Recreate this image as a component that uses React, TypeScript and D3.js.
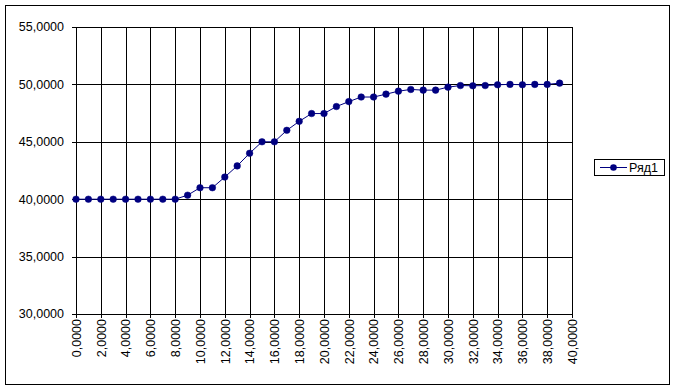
import React from "react";
import * as d3 from "d3";

const xValues = [0,1,2,3,4,5,6,7,8,9,10,11,12,13,14,15,16,17,18,19,20,21,22,23,24,25,26,27,28,29,30,31,32,33,34,35,36,37,38,39];
const yValues = [40,40,40,40,40,40,40,40,40,40.35,41.0,41.0,41.93,42.9,44.0,45.0,45.0,46.0,46.78,47.46,47.46,48.07,48.5,48.9,48.9,49.15,49.41,49.56,49.5,49.5,49.76,49.9,49.88,49.9,49.97,50.0,49.97,50.0,50.0,50.11];
const xTicks = [0,2,4,6,8,10,12,14,16,18,20,22,24,26,28,30,32,34,36,38,40];
const yTicks = [30,35,40,45,50,55];
const seriesName = "Ряд1";

const W = 675, H = 390;
const left = 76, right = 572, top = 27, bottom = 314;
const color = "#000080";
const font = "'Liberation Sans', Arial, sans-serif";
const fmt = (v: number) => v.toFixed(4).replace(".", ",");

export default function App() {
  const x = d3.scaleLinear().domain([0, 40]).range([left, right]);
  const y = d3.scaleLinear().domain([30, 55]).range([bottom, top]);
  const pts = xValues.map((v, i) => [x(v), y(yValues[i])] as [number, number]);
  const line = d3.line()(pts) || "";
  return (
    <svg width={W} height={H} style={{ position: "absolute", left: 0, top: 0 }} fontFamily={font}>
      <rect x={0} y={0} width={W} height={H} fill="#fff" />
      <rect x={5.5} y={5.5} width={664} height={379} fill="none" stroke="#000" strokeWidth={1} />
      {xTicks.map((t) => (
        <line key={"gx" + t} x1={Math.round(x(t)) + 0.5} x2={Math.round(x(t)) + 0.5} y1={top} y2={bottom + 4} stroke="#000" />
      ))}
      {yTicks.map((t) => (
        <line key={"gy" + t} x1={left - 4} x2={right + 0.5} y1={Math.round(y(t)) + 0.5} y2={Math.round(y(t)) + 0.5} stroke="#000" />
      ))}
      {yTicks.map((t) => (
        <text key={"ly" + t} x={64} y={y(t)} dy="0.35em" textAnchor="end" fontSize={12.5} fill="#000">{fmt(t)}</text>
      ))}
      {xTicks.map((t) => (
        <text key={"lx" + t} transform={`translate(${x(t) + 0.5},${bottom + 5}) rotate(-90)`} dy="0.35em" textAnchor="end" fontSize={12.5} fill="#000">{fmt(t)}</text>
      ))}
      <path d={line} fill="none" stroke={color} strokeWidth={1} />
      {pts.map((p, i) => (
        <circle key={"p" + i} cx={p[0]} cy={p[1]} r={3.3} fill={color} stroke={color} strokeWidth={0.5} />
      ))}
      <rect x={594.5} y={159.5} width={70} height={16} fill="#fff" stroke="#000" />
      <line x1={600} x2={627} y1={167.5} y2={167.5} stroke={color} />
      <circle cx={613.5} cy={167.5} r={3.3} fill={color} />
      <text x={629} y={167.5} dy="0.35em" fontSize={12.5} fill="#000">{seriesName}</text>
    </svg>
  );
}
